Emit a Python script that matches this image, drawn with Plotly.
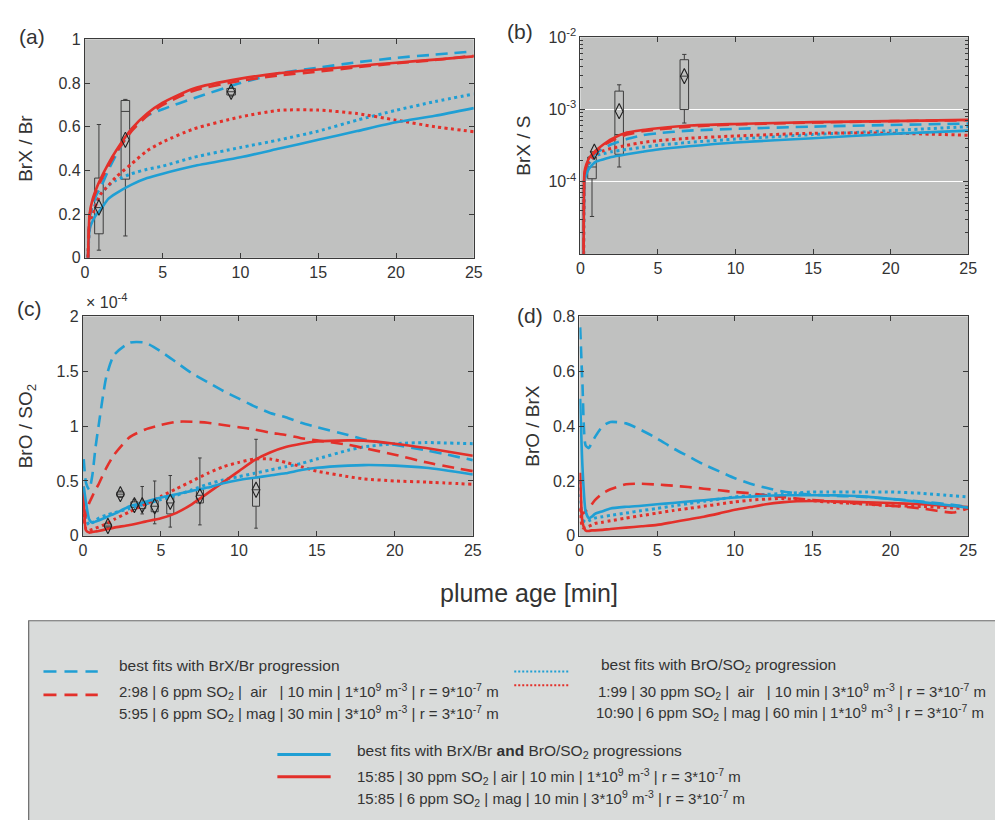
import plotly.graph_objects as go

# ---------------- data ----------------
BLUE = "#1f9fd4"
RED = "#e3302a"

# Panel (a): BrX / Br
T_A = [0.2, 0.3, 0.5, 0.75, 1, 1.5, 2, 3, 4, 5, 7, 10, 12.5, 15, 17.5, 20, 22.5, 25]
A_BLUE_DASH = [0, 0.18, 0.24, 0.29, 0.32, 0.40, 0.47, 0.59, 0.65, 0.68, 0.73, 0.80, 0.845, 0.87, 0.895, 0.915, 0.93, 0.945]
A_RED_DASH = [0, 0.19, 0.26, 0.31, 0.35, 0.42, 0.48, 0.58, 0.65, 0.70, 0.765, 0.81, 0.835, 0.852, 0.872, 0.89, 0.905, 0.925]
A_BLUE_DOT = [0, 0.15, 0.21, 0.26, 0.29, 0.33, 0.355, 0.385, 0.405, 0.42, 0.46, 0.505, 0.54, 0.58, 0.63, 0.675, 0.715, 0.75]
A_RED_DOT = [0, 0.15, 0.20, 0.25, 0.29, 0.33, 0.37, 0.43, 0.49, 0.53, 0.59, 0.645, 0.675, 0.676, 0.66, 0.63, 0.60, 0.577]
A_BLUE_SOL = [0, 0.13, 0.17, 0.20, 0.22, 0.27, 0.295, 0.335, 0.365, 0.385, 0.42, 0.46, 0.50, 0.54, 0.58, 0.62, 0.65, 0.685]
A_RED_SOL = [0, 0.20, 0.27, 0.32, 0.36, 0.43, 0.49, 0.59, 0.66, 0.71, 0.775, 0.82, 0.845, 0.862, 0.878, 0.893, 0.907, 0.922]
A_BOX_X = [0.9, 2.6, 9.4]
A_BOX_LO = [0.035, 0.10, 0.74]
A_BOX_Q1 = [0.11, 0.36, 0.745]
A_BOX_MED = [0.23, 0.67, 0.76]
A_BOX_Q3 = [0.365, 0.72, 0.775]
A_BOX_HI = [0.61, 0.725, 0.78]
A_MEAN = [0.23, 0.54, 0.76]

# Panel (b): BrX / S (log)
T_B = [0.2, 0.25, 0.3, 0.5, 0.75, 1, 1.5, 2, 3, 4, 5, 7, 10, 15, 20, 25]
B_BLUE_DASH = [1e-6, 1.0e-4, 1.3e-4, 1.8e-4, 2.2e-4, 2.5e-4, 2.9e-4, 3.3e-4, 3.9e-4, 4.4e-4, 4.7e-4, 5.1e-4, 5.4e-4, 5.8e-4, 6.1e-4, 6.4e-4]
B_RED_DASH = [1e-6, 1.1e-4, 1.4e-4, 1.9e-4, 2.3e-4, 2.6e-4, 3.2e-4, 3.7e-4, 4.5e-4, 5.0e-4, 5.3e-4, 5.8e-4, 6.2e-4, 6.6e-4, 6.9e-4, 7.1e-4]
B_BLUE_DOT = [1e-6, 1.0e-4, 1.3e-4, 1.7e-4, 2.0e-4, 2.3e-4, 2.45e-4, 2.6e-4, 2.8e-4, 3.0e-4, 3.2e-4, 3.5e-4, 3.9e-4, 4.5e-4, 5.1e-4, 5.8e-4]
B_RED_DOT = [1e-6, 1.0e-4, 1.3e-4, 1.8e-4, 2.1e-4, 2.4e-4, 2.7e-4, 2.9e-4, 3.2e-4, 3.5e-4, 3.7e-4, 4.0e-4, 4.3e-4, 4.7e-4, 4.7e-4, 4.4e-4]
B_BLUE_SOL = [1e-6, 0.9e-4, 1.1e-4, 1.45e-4, 1.7e-4, 1.9e-4, 2.05e-4, 2.2e-4, 2.4e-4, 2.6e-4, 2.8e-4, 3.1e-4, 3.5e-4, 4.0e-4, 4.6e-4, 5.1e-4]
B_RED_SOL = [1e-6, 1.2e-4, 1.5e-4, 2.0e-4, 2.4e-4, 2.7e-4, 3.3e-4, 3.9e-4, 4.8e-4, 5.2e-4, 5.5e-4, 6.0e-4, 6.3e-4, 6.7e-4, 6.9e-4, 7.2e-4]
B_BOX_X = [0.75, 2.5, 6.7]
B_BOX_LO = [3.3e-5, 1.6e-4, 6.5e-4]
B_BOX_Q1 = [1.1e-4, 2.4e-4, 1.0e-3]
B_BOX_MED = [1.6e-4, 4.5e-4, 2.9e-3]
B_BOX_Q3 = [2.2e-4, 1.8e-3, 4.9e-3]
B_BOX_HI = [2.6e-4, 2.2e-3, 5.8e-3]
B_MEAN_X = [0.9, 2.5, 6.7]
B_MEAN = [2.6e-4, 9.5e-4, 2.9e-3]

# Panel (c): BrO / SO2 (units of 1e-4)
T_C = [0.05, 0.2, 0.4, 0.6, 0.8, 1, 1.5, 2, 3, 4, 5, 6, 7, 8, 9, 10, 11, 12, 13, 14, 15, 17, 18, 20, 22, 25]
C_BLUE_DASH = [0.70, 0.48, 0.42, 0.55, 0.80, 1.00, 1.45, 1.65, 1.76, 1.76, 1.68, 1.58, 1.48, 1.40, 1.32, 1.25, 1.18, 1.12, 1.08, 1.03, 0.99, 0.92, 0.88, 0.83, 0.78, 0.69]
C_RED_DASH = [0.12, 0.20, 0.30, 0.36, 0.42, 0.47, 0.62, 0.74, 0.90, 0.97, 1.01, 1.04, 1.04, 1.03, 1.01, 0.99, 0.97, 0.94, 0.92, 0.89, 0.87, 0.83, 0.80, 0.74, 0.67, 0.59]
C_BLUE_DOT = [0.30, 0.15, 0.10, 0.12, 0.14, 0.16, 0.19, 0.21, 0.25, 0.29, 0.33, 0.37, 0.42, 0.47, 0.51, 0.54, 0.57, 0.60, 0.63, 0.66, 0.70, 0.78, 0.81, 0.84, 0.85, 0.84]
C_RED_DOT = [0.20, 0.06, 0.05, 0.06, 0.07, 0.08, 0.11, 0.15, 0.22, 0.29, 0.36, 0.43, 0.50, 0.57, 0.63, 0.67, 0.70, 0.70, 0.67, 0.63, 0.59, 0.54, 0.52, 0.50, 0.49, 0.47]
C_BLUE_SOL = [0.45, 0.30, 0.15, 0.12, 0.13, 0.14, 0.17, 0.20, 0.27, 0.31, 0.35, 0.38, 0.41, 0.44, 0.48, 0.51, 0.53, 0.55, 0.57, 0.60, 0.62, 0.64, 0.645, 0.64, 0.62, 0.56]
C_RED_SOL = [0.45, 0.05, 0.03, 0.035, 0.04, 0.045, 0.06, 0.075, 0.10, 0.13, 0.16, 0.21, 0.29, 0.39, 0.49, 0.59, 0.69, 0.76, 0.81, 0.84, 0.86, 0.87, 0.868, 0.84, 0.80, 0.73]
C_BOX_X = [1.6, 2.4, 3.3, 3.8, 4.6, 5.6, 7.5, 11.1]
C_BOX_LO = [0.07, 0.35, 0.24, 0.20, 0.11, 0.08, 0.10, 0.07]
C_BOX_Q1 = [0.08, 0.36, 0.26, 0.25, 0.22, 0.20, 0.30, 0.27]
C_BOX_MED = [0.09, 0.38, 0.28, 0.28, 0.27, 0.30, 0.37, 0.42]
C_BOX_Q3 = [0.11, 0.40, 0.31, 0.30, 0.32, 0.37, 0.42, 0.53]
C_BOX_HI = [0.12, 0.41, 0.33, 0.45, 0.50, 0.55, 0.71, 0.88]
C_MEAN = [0.09, 0.38, 0.28, 0.28, 0.27, 0.31, 0.36, 0.42]

# Panel (d): BrO / BrX
T_D = [0.05, 0.2, 0.4, 0.6, 0.8, 1, 1.5, 2, 3, 4, 5, 6, 7, 8, 9, 10, 11, 12, 13, 14, 15, 16, 17, 18, 20, 22, 24, 25]
D_BLUE_DASH = [0.76, 0.55, 0.33, 0.32, 0.34, 0.36, 0.40, 0.415, 0.41, 0.385, 0.355, 0.32, 0.29, 0.26, 0.235, 0.21, 0.19, 0.175, 0.163, 0.155, 0.15, 0.147, 0.145, 0.143, 0.135, 0.125, 0.113, 0.105]
D_RED_DASH = [0.10, 0.08, 0.09, 0.10, 0.115, 0.13, 0.155, 0.17, 0.188, 0.19, 0.187, 0.183, 0.178, 0.172, 0.166, 0.16, 0.155, 0.148, 0.142, 0.136, 0.131, 0.127, 0.122, 0.118, 0.11, 0.10, 0.085, 0.10]
D_BLUE_DOT = [0.20, 0.06, 0.05, 0.055, 0.06, 0.065, 0.07, 0.075, 0.083, 0.092, 0.10, 0.109, 0.118, 0.126, 0.134, 0.142, 0.147, 0.151, 0.154, 0.157, 0.16, 0.16, 0.16, 0.16, 0.16, 0.155, 0.146, 0.142]
D_RED_DOT = [0.10, 0.03, 0.03, 0.035, 0.04, 0.045, 0.05, 0.055, 0.065, 0.074, 0.083, 0.092, 0.10, 0.108, 0.116, 0.124, 0.13, 0.134, 0.136, 0.133, 0.128, 0.123, 0.12, 0.117, 0.11, 0.107, 0.102, 0.10]
D_BLUE_SOL = [0.50, 0.25, 0.09, 0.065, 0.07, 0.08, 0.09, 0.10, 0.106, 0.11, 0.115, 0.12, 0.125, 0.13, 0.135, 0.14, 0.143, 0.146, 0.148, 0.148, 0.148, 0.148, 0.147, 0.145, 0.135, 0.123, 0.11, 0.103]
D_RED_SOL = [0.23, 0.05, 0.02, 0.018, 0.02, 0.02, 0.022, 0.025, 0.03, 0.035, 0.04, 0.05, 0.06, 0.07, 0.082, 0.095, 0.105, 0.115, 0.122, 0.126, 0.127, 0.126, 0.125, 0.123, 0.12, 0.115, 0.108, 0.105]

X_TICKS = [0, 5, 10, 15, 20, 25]

# ---------------- figure ----------------
W, H = 995, 820
FONT = "Liberation Sans, Arial, sans-serif"
TXT = "#333333"
BG = "#c0c1c0"


def xd(p0, p1):
    return [p0 / W, p1 / W]


def yd(top, bottom):
    return [1 - bottom / H, 1 - top / H]


fig = go.Figure()

DASH = "12px,7px"
DOT = "3px,3.5px"


def add_curves(t, series, xa, ya):
    for vals, color, dash, width in series:
        fig.add_trace(go.Scatter(
            x=t, y=vals, mode="lines", xaxis=xa, yaxis=ya, showlegend=False,
            line=dict(color=color, dash=dash, width=width, shape="spline", smoothing=0.6),
            hoverinfo="skip"))


def add_boxes(xs, lo, q1, med, q3, hi, width, xa, ya):
    fig.add_trace(go.Box(
        x=xs, lowerfence=lo, q1=q1, median=med, q3=q3, upperfence=hi,
        width=width, boxpoints=False, whiskerwidth=0.5, xaxis=xa, yaxis=ya,
        line=dict(color="#3c3c3c", width=1), fillcolor="rgba(0,0,0,0)",
        showlegend=False, hoverinfo="skip"))


def add_means(xs, ys, xa, ya):
    fig.add_trace(go.Scatter(
        x=xs, y=ys, mode="markers", xaxis=xa, yaxis=ya, showlegend=False,
        marker=dict(symbol="diamond-tall-open", size=11, color="#202020", line=dict(width=1.1)),
        hoverinfo="skip"))


# panel a
add_boxes(A_BOX_X, A_BOX_LO, A_BOX_Q1, A_BOX_MED, A_BOX_Q3, A_BOX_HI, 0.55, "x", "y")
add_curves(T_A, [
    (A_BLUE_DOT, BLUE, DOT, 3), (A_RED_DOT, RED, DOT, 3),
    (A_BLUE_SOL, BLUE, "solid", 2.6), (A_BLUE_DASH, BLUE, DASH, 2.6),
    (A_RED_DASH, RED, DASH, 2.6), (A_RED_SOL, RED, "solid", 2.6)], "x", "y")
add_means(A_BOX_X, A_MEAN, "x", "y")

# panel b
add_boxes(B_BOX_X, B_BOX_LO, B_BOX_Q1, B_BOX_MED, B_BOX_Q3, B_BOX_HI, 0.55, "x2", "y2")
add_curves(T_B, [
    (B_BLUE_DOT, BLUE, DOT, 3), (B_RED_DOT, RED, DOT, 3),
    (B_BLUE_SOL, BLUE, "solid", 2.6), (B_BLUE_DASH, BLUE, DASH, 2.6),
    (B_RED_DASH, RED, DASH, 2.6), (B_RED_SOL, RED, "solid", 2.6)], "x2", "y2")
add_means(B_MEAN_X, B_MEAN, "x2", "y2")

# panel c
add_boxes(C_BOX_X, C_BOX_LO, C_BOX_Q1, C_BOX_MED, C_BOX_Q3, C_BOX_HI, 0.45, "x3", "y3")
add_curves(T_C, [
    (C_BLUE_DOT, BLUE, DOT, 3), (C_RED_DOT, RED, DOT, 3),
    (C_BLUE_DASH, BLUE, DASH, 2.6), (C_RED_DASH, RED, DASH, 2.6),
    (C_RED_SOL, RED, "solid", 2.6), (C_BLUE_SOL, BLUE, "solid", 2.6)], "x3", "y3")
add_means(C_BOX_X, C_MEAN, "x3", "y3")

# panel d
add_curves(T_D, [
    (D_BLUE_DOT, BLUE, DOT, 3), (D_RED_DOT, RED, DOT, 3),
    (D_BLUE_DASH, BLUE, DASH, 2.6), (D_RED_DASH, RED, DASH, 2.6),
    (D_RED_SOL, RED, "solid", 2.6), (D_BLUE_SOL, BLUE, "solid", 2.6)], "x4", "y4")

axis_common = dict(showline=True, linecolor="#3a3a3a", linewidth=1, mirror="ticks",
                   ticks="inside", ticklen=5, tickcolor="#3a3a3a", showgrid=False,
                   zeroline=False, tickfont=dict(size=16, color=TXT, family=FONT))

xa = dict(axis_common, range=[0, 25], tickvals=X_TICKS)
title_font = dict(size=19, color=TXT, family=FONT)

fig.update_layout(
    width=W, height=H, margin=dict(l=0, r=0, t=0, b=0),
    paper_bgcolor="white", plot_bgcolor=BG,
    font=dict(family=FONT, color=TXT),
    xaxis=dict(xa, domain=xd(82, 476), anchor="y"),
    yaxis=dict(axis_common, domain=yd(29, 253), anchor="x", range=[0, 1],
               tickvals=[0, 0.2, 0.4, 0.6, 0.8, 1], ticktext=["0", "0.2", "0.4", "0.6", "0.8", "1"],
               title=dict(text="BrX / Br", font=title_font, standoff=20)),
    xaxis2=dict(xa, domain=xd(584, 977), anchor="y2"),
    yaxis2=dict(axis_common, domain=yd(27, 249), anchor="x2", type="log", range=[-5, -2],
                tickvals=[1e-4, 1e-3, 1e-2],
                ticktext=["10<sup>-4</sup>", "10<sup>-3</sup>", "10<sup>-2</sup>"],
                showgrid=True, gridcolor="white", gridwidth=1,
                minor=dict(ticks="inside", ticklen=3, tickcolor="#3a3a3a", showgrid=False,
                           tickvals=[m * 10 ** e for e in (-5, -4, -3) for m in range(2, 10)]),
                title=dict(text="BrX / S", font=title_font, standoff=12)),
    xaxis3=dict(xa, domain=xd(80, 475), anchor="y3"),
    yaxis3=dict(axis_common, domain=yd(313, 538), anchor="x3", range=[0, 2],
                tickvals=[0, 0.5, 1, 1.5, 2], ticktext=["0", "0.5", "1", "1.5", "2"],
                title=dict(text="BrO / SO<sub>2</sub>", font=title_font, standoff=18)),
    xaxis4=dict(xa, domain=xd(583, 977), anchor="y4"),
    yaxis4=dict(axis_common, domain=yd(313, 538), anchor="x4", range=[0, 0.8],
                tickvals=[0, 0.2, 0.4, 0.6, 0.8], ticktext=["0", "0.2", "0.4", "0.6", "0.8"],
                title=dict(text="BrO / BrX", font=title_font, standoff=8)),
)

ann = []


def txt(x, y, s, size=15, xanchor="left", yanchor="middle"):
    ann.append(dict(x=x / W, y=1 - y / H, xref="paper", yref="paper", text=s, showarrow=False,
                    xanchor=xanchor, yanchor=yanchor, font=dict(size=size, color=TXT, family=FONT)))


txt(28, 26, "(a)", 21, "center")
txt(523, 21, "(b)", 21, "center")
txt(26, 305, "(c)", 21, "center")
txt(533, 312, "(d)", 21, "center")
txt(81, 297, "× 10<sup>-4</sup>", 16, "left")
txt(532, 597, "plume age [min]", 25, "center")

# legend box
shapes = [dict(type="rect", xref="paper", yref="paper", x0=25 / W, x1=1.02, y0=-0.02, y1=1 - 625 / H,
               fillcolor="#d9dbda", line=dict(color="#6a6a6a", width=1.2), layer="below")]


def seg(x0, x1, y, color, dash, width):
    shapes.append(dict(type="line", xref="paper", yref="paper", x0=x0 / W, x1=x1 / W,
                       y0=1 - y / H, y1=1 - y / H, line=dict(color=color, dash=dash, width=width)))


seg(40, 95, 677, BLUE, "13px,8px", 2.6)
seg(40, 95, 701, RED, "13px,8px", 2.6)
seg(517, 572, 677, BLUE, "2px,2px", 2)
seg(517, 572, 691, RED, "2px,2px", 2)
seg(277, 331, 762, BLUE, "solid", 3)
seg(277, 331, 785, RED, "solid", 3)

NB = "\u00a0"
txt(115, 671, "best fits with BrX/Br progression", 15.5)
txt(115, 698, f"2:98 | 6 ppm SO<sub>2</sub> |{NB} air{NB}{NB} | 10 min | 1*10<sup>9</sup> m<sup>-3</sup> | r = 9*10<sup>-7</sup> m")
txt(115, 720, "5:95 | 6 ppm SO<sub>2</sub> | mag | 30 min | 3*10<sup>9</sup> m<sup>-3</sup> | r = 3*10<sup>-7</sup> m")
txt(603, 671, "best fits with BrO/SO<sub>2</sub> progression", 15.5)
txt(600, 697, f"1:99 | 30 ppm SO<sub>2</sub> |{NB} air{NB}{NB} | 10 min | 3*10<sup>9</sup> m<sup>-3</sup> | r = 3*10<sup>-7</sup> m")
txt(598, 719, "10:90 | 6 ppm SO<sub>2</sub> | mag | 60 min | 1*10<sup>9</sup> m<sup>-3</sup> | r = 3*10<sup>-7</sup> m")
txt(356, 759, "best fits with BrX/Br <b>and</b> BrO/SO<sub>2</sub> progressions", 15.5)
txt(356, 785, "15:85 | 30 ppm SO<sub>2</sub> | air | 10 min | 1*10<sup>9</sup> m<sup>-3</sup> | r = 3*10<sup>-7</sup> m")
txt(356, 807, "15:85 | 6 ppm SO<sub>2</sub> | mag | 10 min | 3*10<sup>9</sup> m<sup>-3</sup> | r = 3*10<sup>-7</sup> m")

fig.update_layout(annotations=ann, shapes=shapes)
fig.write_html("out.html")
